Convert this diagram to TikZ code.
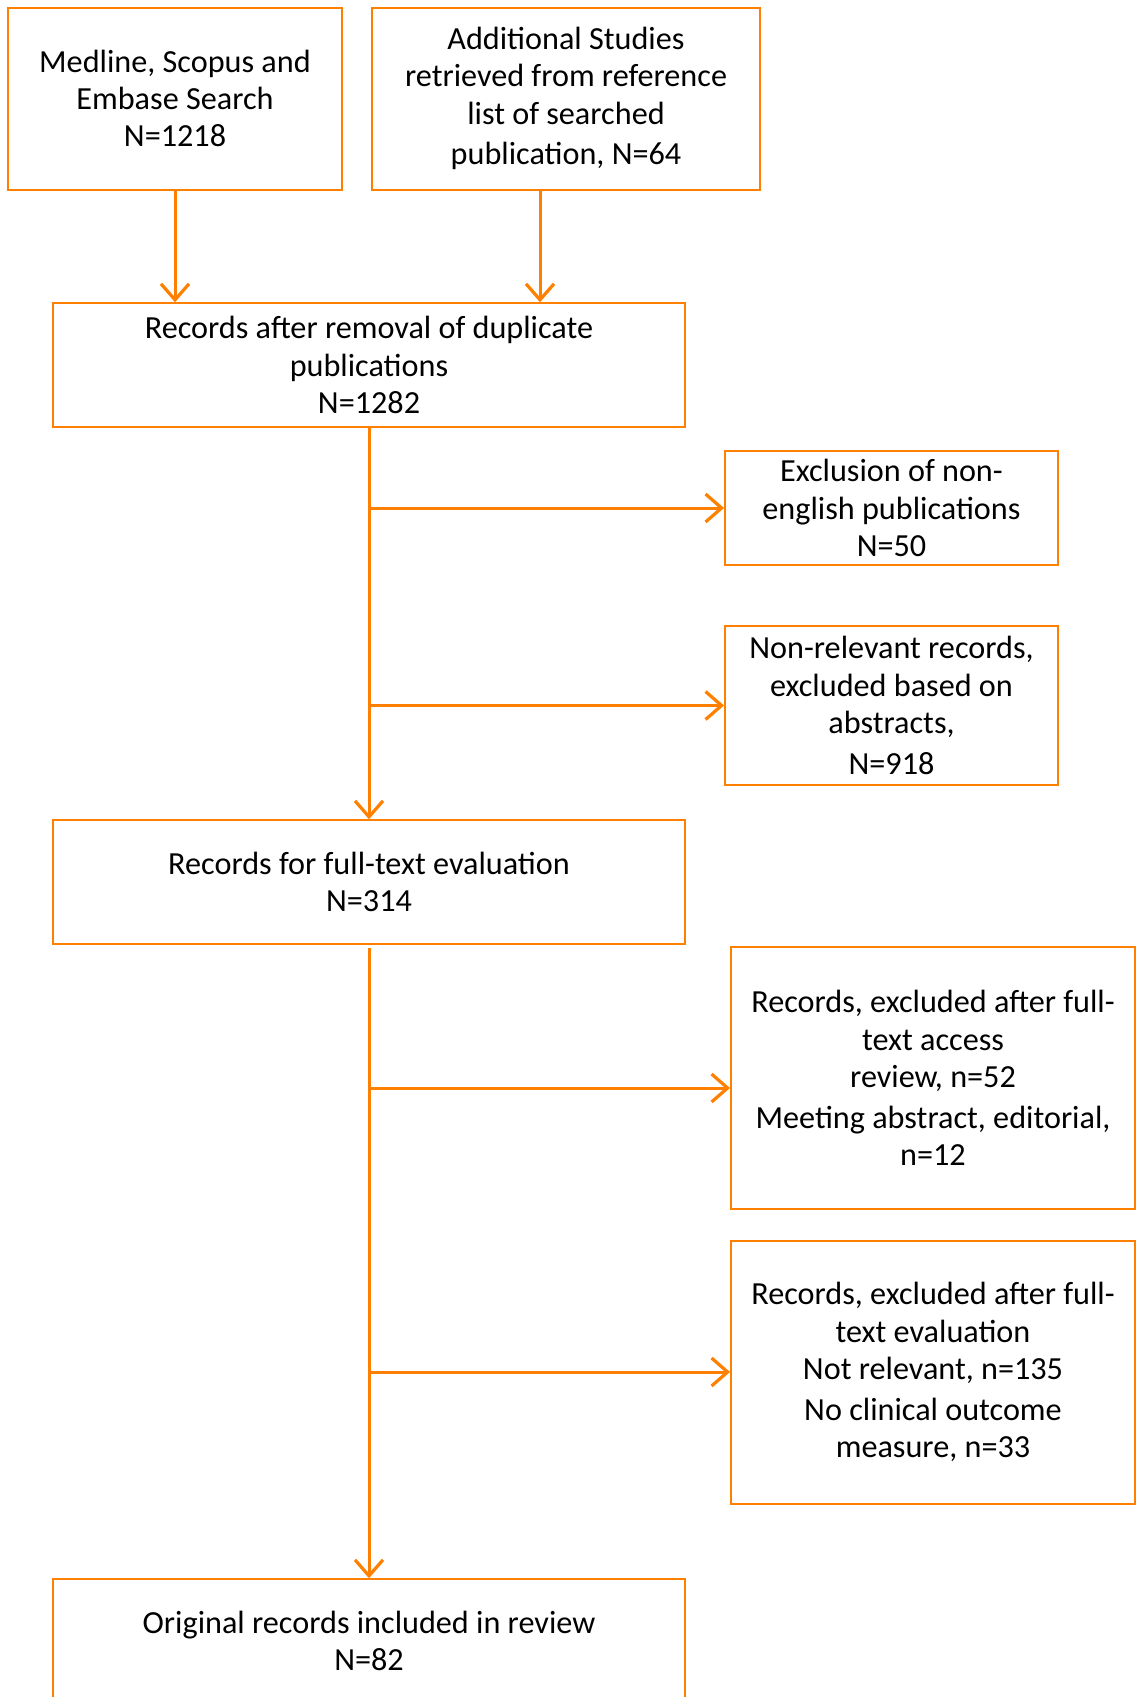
\documentclass[tikz,border=0pt]{standalone}
\usepackage{fontspec}
\setmainfont{Carlito}
\usetikzlibrary{arrows.meta}

\definecolor{prismaorange}{RGB}{255,128,0}

\tikzset{
  stagebox/.style={draw=prismaorange, line width=1pt, align=center, inner sep=0pt,
    font=\fontsize{16.1pt}{18.7pt}\selectfont},
  flowarrow/.style={draw=prismaorange, line width=1.5pt,
    -{Straight Barb[length=8pt,width=14pt,line width=1.6pt]}},
  trunkline/.style={draw=prismaorange, line width=1.5pt}
}

\begin{document}
\begin{tikzpicture}[x=0.5pt, y=-0.5pt]

\useasboundingbox (0,0) rectangle (1142,1697);

% identification
\node[stagebox, minimum width=167pt, minimum height=91pt] (search) at (175,98.5)
  {Medline, Scopus and\\Embase Search\\N=1218};
\node[stagebox, minimum width=194pt, minimum height=91pt] (extra) at (566,98.5)
  {Additional Studies\\retrieved from reference\\list of searched\\[1.5pt]publication, N=64};

% screening
\node[stagebox, minimum width=316pt, minimum height=61.75pt] (dedup) at (369,365)
  {Records after removal of duplicate\\publications\\N=1282};
\node[stagebox, minimum width=166.5pt, minimum height=57pt] (nonenglish) at (891.5,508)
  {Exclusion of non-\\english publications\\N=50};
\node[stagebox, minimum width=166.5pt, minimum height=79.5pt] (abstracts) at (891.5,705.5)
  {Non-relevant records,\\excluded based on\\abstracts,\\[1.5pt]N=918};

% eligibility
\node[stagebox, minimum width=316pt, minimum height=61.75pt] (fulltext) at (369,882)
  {Records for full-text evaluation\\N=314};
\node[stagebox, minimum width=202pt, minimum height=131pt] (access) at (933,1078)
  {Records, excluded after full-\\text access\\review, n=52\\[1.5pt]Meeting abstract, editorial,\\n=12};
\node[stagebox, minimum width=202pt, minimum height=131.5pt] (evaluated) at (933,1372)
  {Records, excluded after full-\\text evaluation\\Not relevant, n=135\\[1.5pt]No clinical outcome\\measure, n=33};

% included
\node[stagebox, minimum width=316pt, minimum height=61.75pt] (included) at (369,1641)
  {Original records included in review\\N=82};

\draw[flowarrow] (search.south) -- (search.south |- dedup.north);
\draw[flowarrow] ([xshift=-13pt]extra.south) -- ([xshift=-13pt]extra.south |- dedup.north);

\draw[flowarrow] (dedup.south) -- (fulltext.north);
\draw[flowarrow] (dedup.south |- nonenglish.west) -- (nonenglish.west);
\draw[flowarrow] (dedup.south |- abstracts.west) -- (abstracts.west);

\draw[flowarrow] ([yshift=-1.5pt]fulltext.south) -- (included.north);
\draw[flowarrow] ([yshift=-5pt]fulltext.south |- access.west) -- ([yshift=-5pt]access.west);
\draw[flowarrow] (fulltext.south |- evaluated.west) -- (evaluated.west);

\end{tikzpicture}
\end{document}
